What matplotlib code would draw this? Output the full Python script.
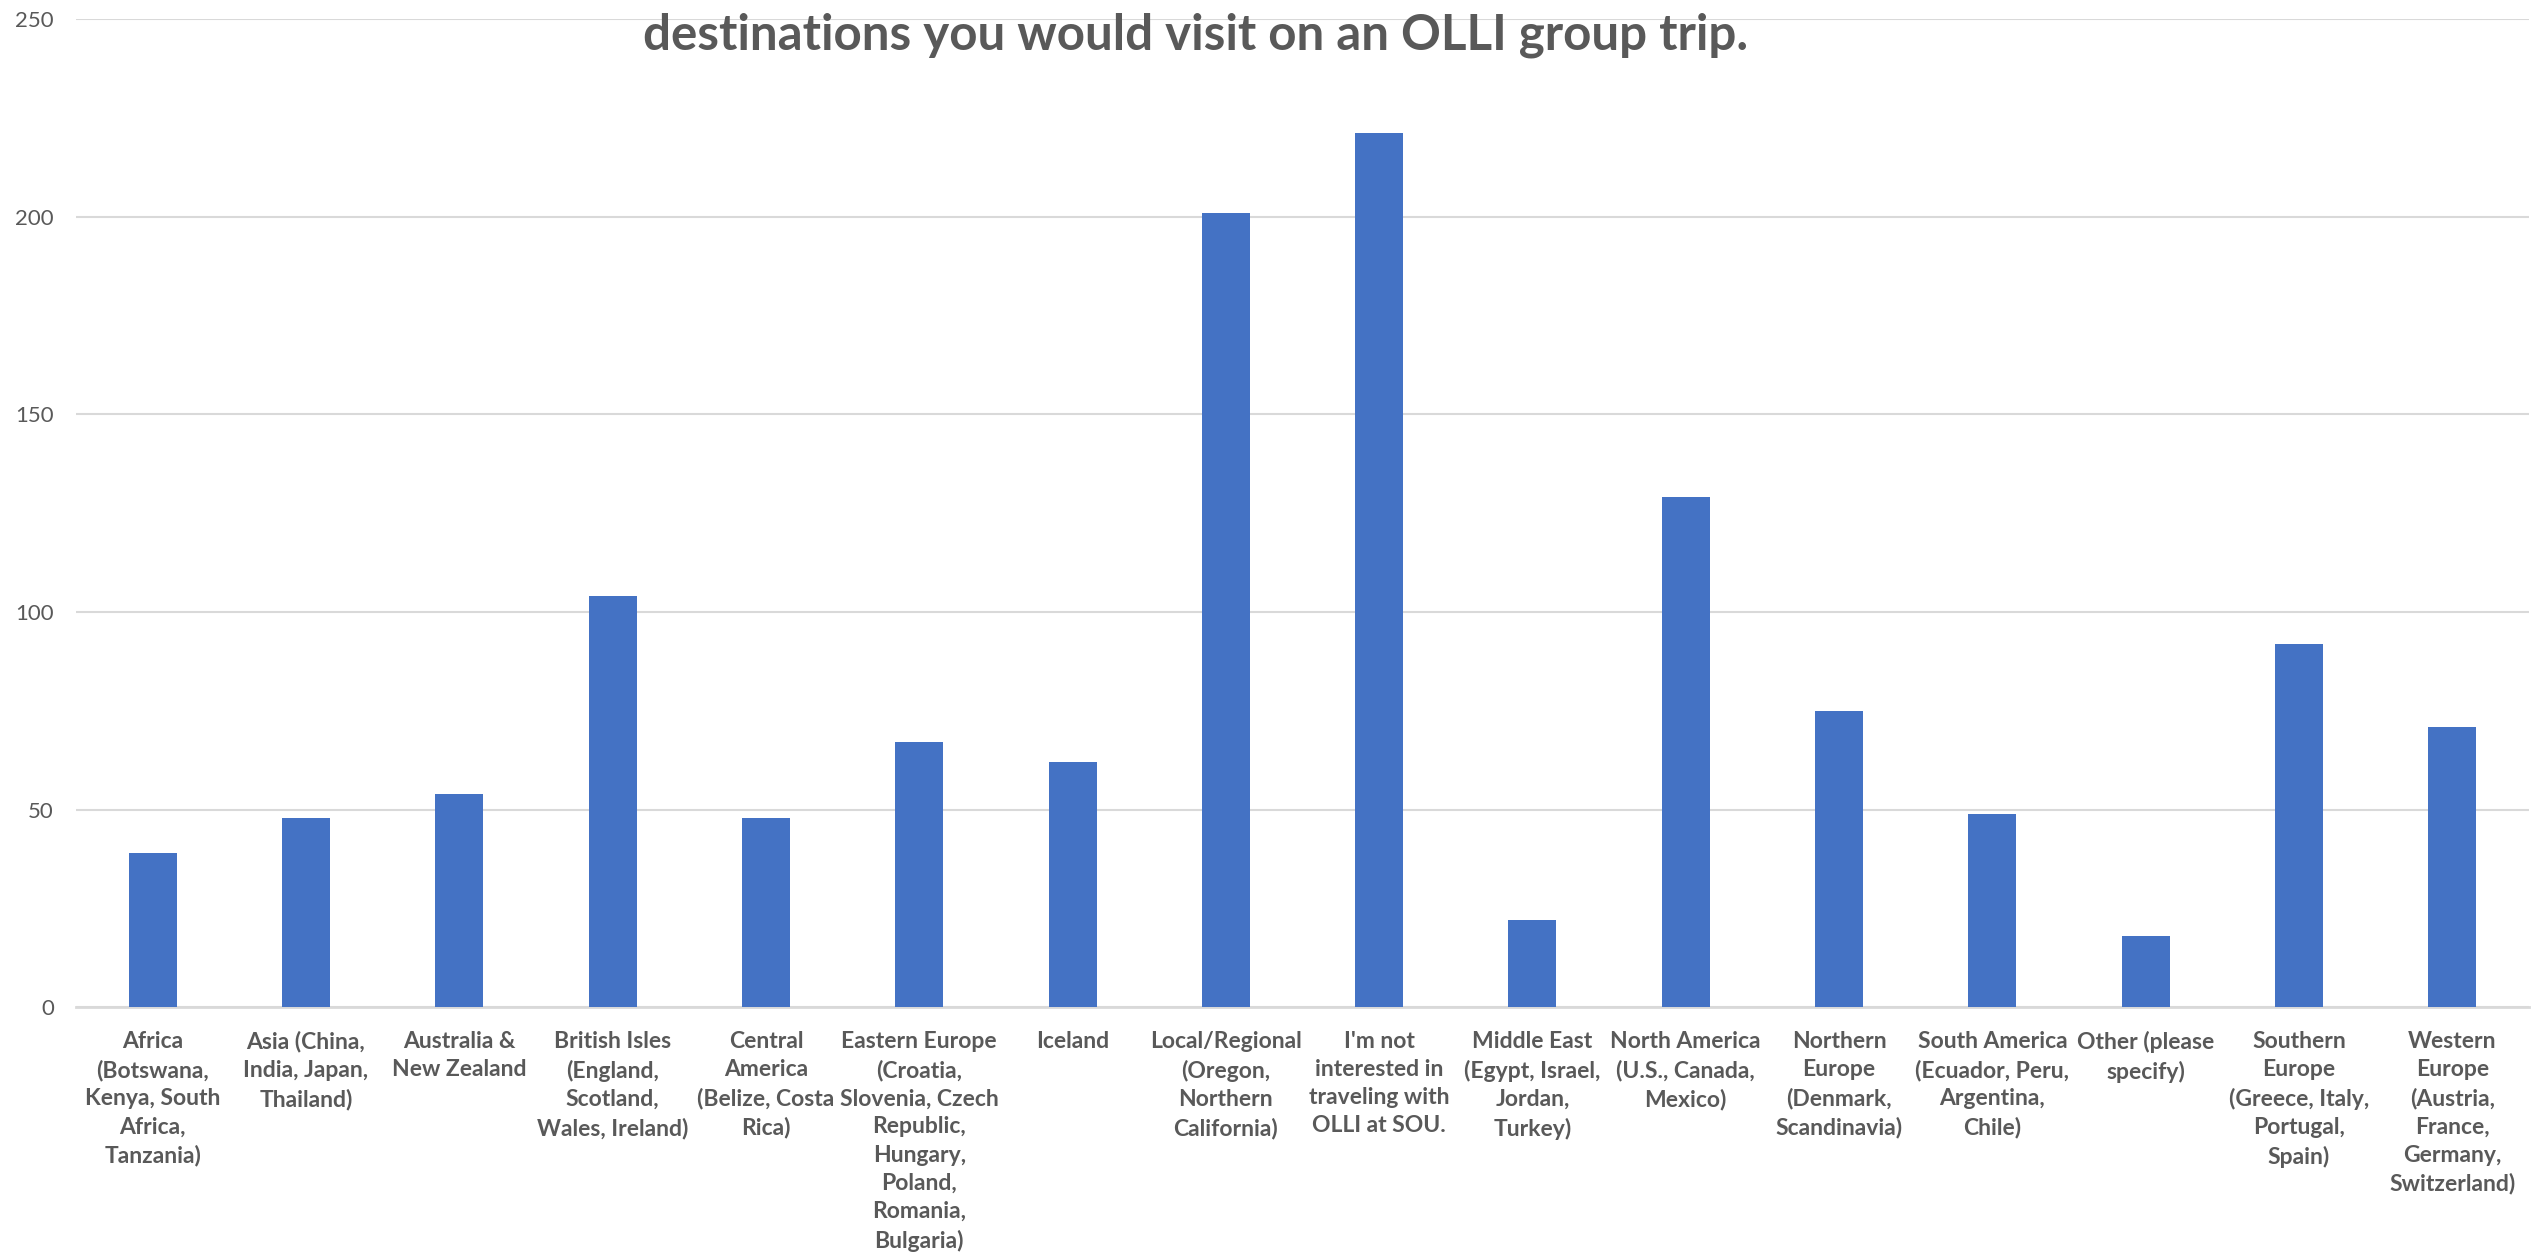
import matplotlib
matplotlib.use('Agg')
import matplotlib.pyplot as plt
import numpy as np

# Data
categories = [
    "Africa\n(Botswana,\nKenya, South\nAfrica,\nTanzania)",
    "Asia (China,\nIndia, Japan,\nThailand)",
    "Australia &\nNew Zealand",
    "British Isles\n(England,\nScotland,\nWales, Ireland)",
    "Central\nAmerica\n(Belize, Costa\nRica)",
    "Eastern Europe\n(Croatia,\nSlovenia, Czech\nRepublic,\nHungary,\nPoland,\nRomania,\nBulgaria)",
    "Iceland",
    "Local/Regional\n(Oregon,\nNorthern\nCalifornia)",
    "I'm not\ninterested in\ntraveling with\nOLLI at SOU.",
    "Middle East\n(Egypt, Israel,\nJordan,\nTurkey)",
    "North America\n(U.S., Canada,\nMexico)",
    "Northern\nEurope\n(Denmark,\nScandinavia)",
    "South America\n(Ecuador, Peru,\nArgentina,\nChile)",
    "Other (please\nspecify)",
    "Southern\nEurope\n(Greece, Italy,\nPortugal,\nSpain)",
    "Western\nEurope\n(Austria,\nFrance,\nGermany,\nSwitzerland)",
]
counts = [39, 48, 54, 104, 48, 67, 62, 201, 221, 22, 129, 75, 49, 18, 92, 71]
yticks = [0, 50, 100, 150, 200, 250]
title = "destinations you would visit on an OLLI group trip."

TEXT = '#595959'
GRID = '#D9D9D9'
BAR = '#4472C4'

plt.rcParams['font.family'] = ['Lato', 'DejaVu Sans']

fig = plt.figure(figsize=(25.34, 12.53), dpi=100)
ax = fig.add_axes([0.030, 0.196, 0.968, 0.789])

x = np.arange(len(counts))
ax.bar(x, counts, width=0.313, color=BAR, zorder=3)

ax.set_xlim(-0.5, len(counts) - 0.5)
ax.set_ylim(0, 250)
ax.set_yticks(yticks)
ax.set_yticklabels([str(v) for v in yticks], fontsize=16, color=TEXT)
ax.set_xticks(x)
ax.set_xticklabels(categories, fontsize=16.5, color=TEXT, fontweight='bold',
                   linespacing=1.42, va='top')
ax.tick_params(axis='both', length=0)
ax.tick_params(axis='y', pad=16)
ax.tick_params(axis='x', pad=17)

ax.grid(axis='y', color=GRID, linewidth=1.5, zorder=0)
for s in ['top', 'right', 'left']:
    ax.spines[s].set_visible(False)
ax.spines['bottom'].set_color(GRID)
ax.spines['bottom'].set_linewidth(2)

fig.text(0.472, 0.972, title, ha='center', va='center', fontsize=35.5,
         fontweight='bold', color=TEXT)

fig.savefig('out.png', dpi=100, facecolor='white')
